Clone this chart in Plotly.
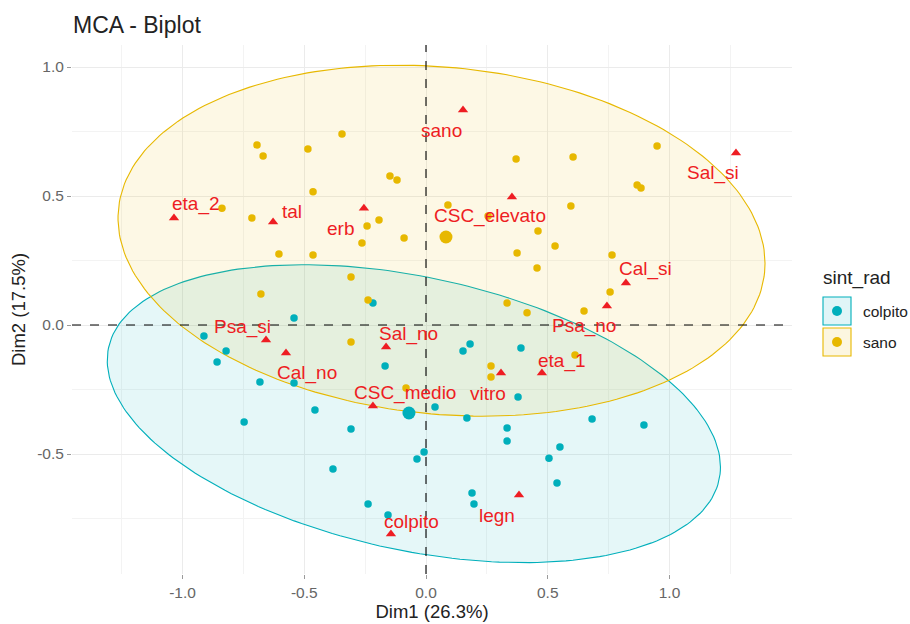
import numpy as np
import plotly.graph_objects as go

# ---------------- data ----------------
# individuals, group "sano"
sano_x = [-0.345, -0.694, -0.669, -0.485, -0.148, -0.119, -0.464, -0.838, -0.715, -0.193,
          -0.242, -0.090, -0.263, -0.604, -0.464, -0.308, -0.678, -0.238, 0.090, 0.370,
          0.604, 0.595, 0.255, 0.460, 0.530, 0.374, 0.456, 0.764, 0.756, 0.333,
          0.949, 0.867, 0.883, 0.415, 0.649, 0.612, 0.267, 0.267, -0.308, -0.082]
sano_y = [0.740, 0.698, 0.655, 0.682, 0.578, 0.562, 0.516, 0.453, 0.415, 0.407,
          0.384, 0.337, 0.318, 0.275, 0.271, 0.186, 0.120, 0.097, 0.465, 0.643,
          0.651, 0.461, 0.422, 0.364, 0.306, 0.279, 0.221, 0.271, 0.128, 0.085,
          0.694, 0.543, 0.531, 0.047, 0.054, -0.116, -0.159, -0.202, -0.066, -0.244]

# individuals, group "colpito"
colp_x = [-0.218, -0.542, -0.858, -0.682, -0.542, -0.456, -0.747, -0.308, 0.037, -0.168,
          -0.008, -0.037, -0.382, -0.238, -0.156, 0.152, 0.181, 0.390, 0.378, 0.168,
          0.333, 0.333, 0.682, 0.895, 0.550, 0.505, 0.538, 0.189, 0.197, -0.912, -0.821]
colp_y = [0.085, 0.027, -0.143, -0.221, -0.225, -0.329, -0.376, -0.403, -0.318, -0.159,
          -0.492, -0.519, -0.558, -0.694, -0.736, -0.101, -0.074, -0.089, -0.279, -0.360,
          -0.399, -0.450, -0.364, -0.388, -0.473, -0.516, -0.612, -0.651, -0.694, -0.043, -0.101]

# group means
mean_groups = ["colpito", "sano"]
mean_x = [-0.070, 0.082]
mean_y = [-0.341, 0.341]

# variable categories
var_names = ["eta_2", "tal", "erb", "sano", "CSC_elevato", "Sal_si", "Cal_si", "Psa_no",
             "Psa_si", "Cal_no", "Sal_no", "CSC_medio", "vitro", "eta_1", "legn", "colpito"]
var_x = [-1.035, -0.628, -0.255, 0.152, 0.353, 1.273, 0.821, 0.743,
         -0.657, -0.575, -0.164, -0.218, 0.308, 0.476, 0.382, -0.144]
var_y = [0.415, 0.399, 0.453, 0.833, 0.496, 0.667, 0.163, 0.074,
         -0.058, -0.109, -0.085, -0.314, -0.186, -0.186, -0.659, -0.810]

x_tickvals = [-1.0, -0.5, 0.0, 0.5, 1.0]
x_ticktext = ["-1.0", "-0.5", "0.0", "0.5", "1.0"]
y_tickvals = [-0.5, 0.0, 0.5, 1.0]
y_ticktext = ["-0.5", "0.0", "0.5", "1.0"]

# ---------------- style / layout ----------------
TEAL = "#00AFBB"
GOLD = "#E7B800"
RED = "#EE1D23"
FONT = "Liberation Sans, Arial, sans-serif"

W, H = 910, 624
ML, MR, MT, MB = 72, 118, 45, 50
PW, PH = W - ML - MR, H - MT - MB

# label offsets in pixels (repel-like placement)
lab_dx = [22, 19, -23, -22, -22, -23, 20, -23, -24, 21, 22, 32, -13, 20, -22, 21]
lab_dy = [14, 11, -20, -20, -19, -20, 14, -20, 13, -20, 13, 13, -21, 12, -20, 12]


def norm_ellipse(xs, ys, level=0.95, n=240):
    pts = np.column_stack([xs, ys])
    c = pts.mean(axis=0)
    cov = np.cov(pts.T)
    d = len(xs) - 1
    fq = (d / 2.0) * ((1 - level) ** (-2.0 / d) - 1)
    r = np.sqrt(2 * fq)
    L = np.linalg.cholesky(cov)
    t = np.linspace(0, 2 * np.pi, n)
    circ = np.column_stack([np.cos(t), np.sin(t)])
    e = c + r * circ @ L.T
    return e[:, 0], e[:, 1]


fig = go.Figure()

for xs, ys, col, fillc in [(colp_x, colp_y, TEAL, "rgba(0,175,187,0.10)"),
                           (sano_x, sano_y, GOLD, "rgba(231,184,0,0.10)")]:
    ex, ey = norm_ellipse(xs, ys)
    fig.add_trace(go.Scatter(x=ex, y=ey, mode="lines", fill="toself", fillcolor=fillc,
                             line=dict(color=col, width=1.1), showlegend=False,
                             hoverinfo="skip"))

fig.add_trace(go.Scatter(x=colp_x, y=colp_y, mode="markers",
                         marker=dict(color=TEAL, size=7.5), showlegend=False, name="colpito"))
fig.add_trace(go.Scatter(x=sano_x, y=sano_y, mode="markers",
                         marker=dict(color=GOLD, size=7.5), showlegend=False, name="sano"))
fig.add_trace(go.Scatter(x=mean_x, y=mean_y, mode="markers",
                         marker=dict(color=[TEAL, GOLD], size=13), showlegend=False,
                         text=mean_groups))
fig.add_trace(go.Scatter(x=var_x, y=var_y, mode="markers",
                         marker=dict(color=RED, size=9, symbol="triangle-up"),
                         showlegend=False, text=var_names))

annotations = []
for name, vx, vy, dx, dy in zip(var_names, var_x, var_y, lab_dx, lab_dy):
    annotations.append(dict(x=vx, y=vy, xref="x", yref="y", text=name, showarrow=False,
                            xshift=dx, yshift=dy, font=dict(family=FONT, size=19, color=RED)))

# dashed reference lines
shapes = [
    dict(type="line", xref="x", yref="paper", x0=0, x1=0, y0=0, y1=1,
         line=dict(color="black", width=1.1, dash="dash")),
    dict(type="line", xref="paper", yref="y", x0=0, x1=1, y0=0, y1=0,
         line=dict(color="black", width=1.1, dash="dash")),
]


def px_x(p):
    return (p - ML) / PW


def px_y(p):
    return (H - MB - p) / PH


# manual legend
for (top, bot, col, fillc, label) in [(297, 325, TEAL, "rgba(0,175,187,0.12)", "colpito"),
                                      (328, 356, GOLD, "rgba(231,184,0,0.12)", "sano")]:
    shapes.append(dict(type="rect", xref="paper", yref="paper",
                       x0=px_x(823), x1=px_x(851), y0=px_y(bot), y1=px_y(top),
                       line=dict(color=col, width=1.1), fillcolor=fillc))
    cy = (top + bot) / 2
    shapes.append(dict(type="circle", xref="paper", yref="paper",
                       x0=px_x(837 - 5), x1=px_x(837 + 5), y0=px_y(cy + 5), y1=px_y(cy - 5),
                       line=dict(color=col, width=0), fillcolor=col))
    annotations.append(dict(x=px_x(861), y=px_y(cy), xref="paper", yref="paper", text=label,
                            showarrow=False, xanchor="left", yanchor="middle",
                            font=dict(family=FONT, size=15.5, color="#222")))
annotations.append(dict(x=px_x(821), y=px_y(278), xref="paper", yref="paper", text="sint_rad",
                        showarrow=False, xanchor="left", yanchor="middle",
                        font=dict(family=FONT, size=19, color="#222")))

fig.update_layout(
    width=W, height=H,
    margin=dict(l=ML, r=MR, t=MT, b=MB, autoexpand=False),
    paper_bgcolor="white", plot_bgcolor="white",
    font=dict(family=FONT),
    title=dict(text="MCA - Biplot", x=px_x(73), xref="paper", xanchor="left",
               y=1 - 25 / H, yref="container", yanchor="middle",
               font=dict(family=FONT, size=23, color="#222")),
    showlegend=False,
    shapes=shapes,
    annotations=annotations,
)

fig.update_xaxes(range=[(ML - 426) / 243.5, (ML + PW - 426) / 243.5],
                 tickvals=x_tickvals, ticktext=x_ticktext,
                 ticks="outside", ticklen=4, tickcolor="#9a9a9a", tickwidth=1,
                 tickfont=dict(family=FONT, size=15.5, color="#666"),
                 showgrid=True, gridcolor="#EBEBEB", gridwidth=1.1,
                 minor=dict(dtick=0.5, tick0=0.25, showgrid=True, gridcolor="#F3F3F3", gridwidth=0.7),
                 zeroline=False, showline=False,
                 title=dict(text="Dim1 (26.3%)", standoff=4,
                            font=dict(family=FONT, size=18.5, color="#222")))
fig.update_yaxes(range=[(325 - (H - MB)) / 258, (325 - MT) / 258],
                 tickvals=y_tickvals, ticktext=y_ticktext,
                 ticks="outside", ticklen=4, tickcolor="#9a9a9a", tickwidth=1,
                 tickfont=dict(family=FONT, size=15.5, color="#666"),
                 showgrid=True, gridcolor="#EBEBEB", gridwidth=1.1,
                 minor=dict(dtick=0.5, tick0=0.25, showgrid=True, gridcolor="#F3F3F3", gridwidth=0.7),
                 zeroline=False, showline=False,
                 title=dict(text="Dim2 (17.5%)", standoff=6,
                            font=dict(family=FONT, size=18.5, color="#222")))

fig.write_html("out.html")
